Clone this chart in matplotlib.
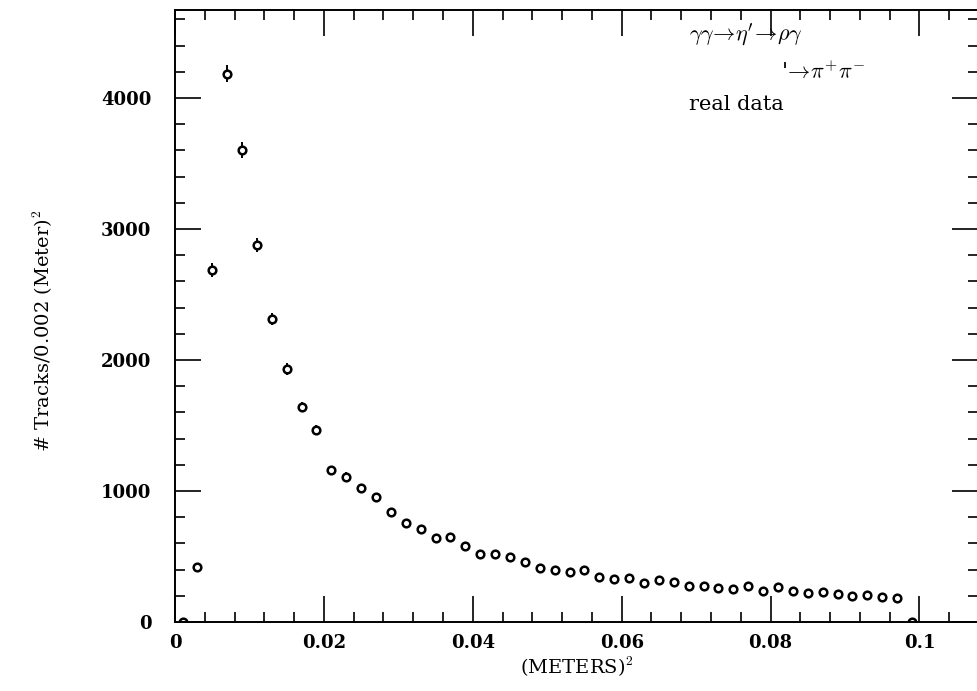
import numpy as np
import matplotlib
matplotlib.use("Agg")
import matplotlib.pyplot as plt
from matplotlib.ticker import MultipleLocator

plt.rcParams['font.family'] = ['DejaVu Serif']
plt.rcParams['mathtext.fontset'] = 'cm'

# bin centres (METERS^2), bin width 0.002
x_centers = [0.001, 0.003, 0.005, 0.007, 0.009, 0.011, 0.013, 0.015, 0.017, 0.019,
             0.021, 0.023, 0.025, 0.027, 0.029, 0.031, 0.033, 0.035, 0.037, 0.039,
             0.041, 0.043, 0.045, 0.047, 0.049, 0.051, 0.053, 0.055, 0.057, 0.059,
             0.061, 0.063, 0.065, 0.067, 0.069, 0.071, 0.073, 0.075, 0.077, 0.079,
             0.081, 0.083, 0.085, 0.087, 0.089, 0.091, 0.093, 0.095, 0.097, 0.099]
counts = [0, 420, 2687, 4185, 3603, 2875, 2313, 1931, 1640, 1466,
          1160, 1109, 1020, 951, 842, 756, 707, 644, 646, 583,
          517, 519, 499, 455, 415, 397, 384, 397, 346, 326,
          338, 295, 321, 303, 277, 277, 257, 249, 272, 237,
          265, 237, 219, 227, 211, 198, 209, 193, 186, 0]

x = np.array(x_centers)
y = np.array(counts, dtype=float)
yerr = np.sqrt(y)

fig = plt.figure(figsize=(9.78, 6.91), dpi=100)
ax = fig.add_axes([0.179, 0.0999, 0.8205, 0.8856])

ax.errorbar(x, y, yerr=yerr, fmt='o', ms=5.5, mfc='white', mec='black', mew=1.8,
            ecolor='black', elinewidth=1.4, capsize=0, color='black')

ax.set_xlim(0, 0.1078)
ax.set_ylim(0, 4672)
ax.xaxis.set_minor_locator(MultipleLocator(0.004))
ax.yaxis.set_minor_locator(MultipleLocator(200))
ax.set_xticks([0, 0.02, 0.04, 0.06, 0.08, 0.1])
ax.set_xticklabels(['0', '0.02', '0.04', '0.06', '0.08', '0.1'])
ax.set_yticks([0, 1000, 2000, 3000, 4000])
ax.set_yticklabels(['0', '1000', '2000', '3000', '4000'])

ax.tick_params(which='both', direction='in', top=True, right=True, width=1.2,
               labelsize=13)
ax.tick_params(which='major', length=19)
ax.tick_params(which='minor', length=7)
ax.tick_params(axis='x', pad=9)
ax.tick_params(axis='y', pad=17)
for lab in ax.get_xticklabels() + ax.get_yticklabels():
    lab.set_fontweight('bold')
for s in ax.spines.values():
    s.set_linewidth(1.4)

ax.set_xlabel(r'(METERS)$^{\mathbf{2}}$', fontsize=14, labelpad=2)
ax.set_ylabel(r'# Tracks/0.002 (Meter)$^{\mathbf{2}}$', fontsize=14)
ax.yaxis.set_label_coords(-0.150, 0.475)

ax.text(0.0691, 4481, r'$\gamma\gamma\!\rightarrow\!\eta^{\prime}\!\rightarrow\!\rho\gamma$',
        fontsize=16, va='center', ha='left')
ax.text(0.0814, 4195, r"'$\!\rightarrow\!\pi^{+}\pi^{-}$", fontsize=16, va='center', ha='left')
ax.text(0.0691, 3947, 'real data', fontsize=15, va='center', ha='left')

fig.savefig('out.png', dpi=100)
